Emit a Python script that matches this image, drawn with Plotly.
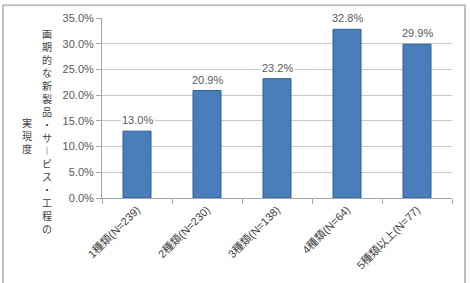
import plotly.graph_objects as go

categories = ["1種類(N=239)", "2種類(N=230)", "3種類(N=138)", "4種類(N=64)", "5種類以上(N=77)"]
values = [13.0, 20.9, 23.2, 32.8, 29.9]
y_title_col1 = "画期的な新製品・サ︱ビス・工程の"
y_title_col2 = "実現度"

W, H = 470, 283
L, R, T, B = 102, 18, 18, 82
pw, ph = W - L - R, H - T - B

def px_x(px):
    return (px - L) / pw

def px_y(py):
    return (H - B - py) / ph

fig = go.Figure()
fig.add_trace(go.Bar(
    x=categories, y=values,
    marker=dict(color="#4a7ebb", line=dict(color="#2f5f96", width=1)),
    width=0.4,
    hoverinfo="skip",
))

for c, v in zip(categories, values):
    fig.add_annotation(
        x=c, y=v, text=f"{v:.1f}%", showarrow=False,
        yanchor="bottom", yshift=3, bgcolor="white",
        font=dict(family="Liberation Sans, Arial", size=11, color="#595959"),
    )

tf = "Noto Sans CJK JP"
fig.add_annotation(
    xref="paper", yref="paper", x=px_x(47), y=px_y(133),
    text="<br>".join(list(y_title_col1)), showarrow=False,
    xanchor="center", yanchor="middle",
    font=dict(family=tf, size=10, color="#404040"),
)
fig.add_annotation(
    xref="paper", yref="paper", x=px_x(27), y=px_y(137),
    text="<br>".join(list(y_title_col2)), showarrow=False,
    xanchor="center", yanchor="middle",
    font=dict(family=tf, size=10, color="#404040"),
)

# outer frame
fig.add_shape(
    type="rect", xref="paper", yref="paper",
    x0=px_x(3), x1=px_x(465), y0=px_y(300), y1=px_y(5),
    line=dict(color="#c0c0c0", width=2), fillcolor="rgba(0,0,0,0)",
    layer="below",
)

fig.update_layout(
    width=W, height=H,
    margin=dict(l=L, r=R, t=T, b=B, pad=0),
    paper_bgcolor="white", plot_bgcolor="white",
    showlegend=False,
    bargap=0.6,
    xaxis=dict(
        type="category",
        showline=True, linecolor="#a6a6a6", linewidth=1,
        ticks="outside", tickson="boundaries", ticklen=5, tickcolor="#a6a6a6",
        tickangle=-45,
        tickfont=dict(family="Liberation Sans, Noto Sans CJK JP", size=11, color="#404040"),
        showgrid=False,
    ),
    yaxis=dict(
        range=[0, 35], dtick=5, tickformat=".1f", ticksuffix="%",
        showline=True, linecolor="#a6a6a6", linewidth=1,
        ticks="outside", ticklen=5, tickcolor="#a6a6a6",
        showgrid=True, gridcolor="#c8c8c8", gridwidth=1,
        zeroline=False,
        tickfont=dict(family="Liberation Sans, Arial", size=11, color="#595959"),
    ),
)

fig.write_html("out.html")
